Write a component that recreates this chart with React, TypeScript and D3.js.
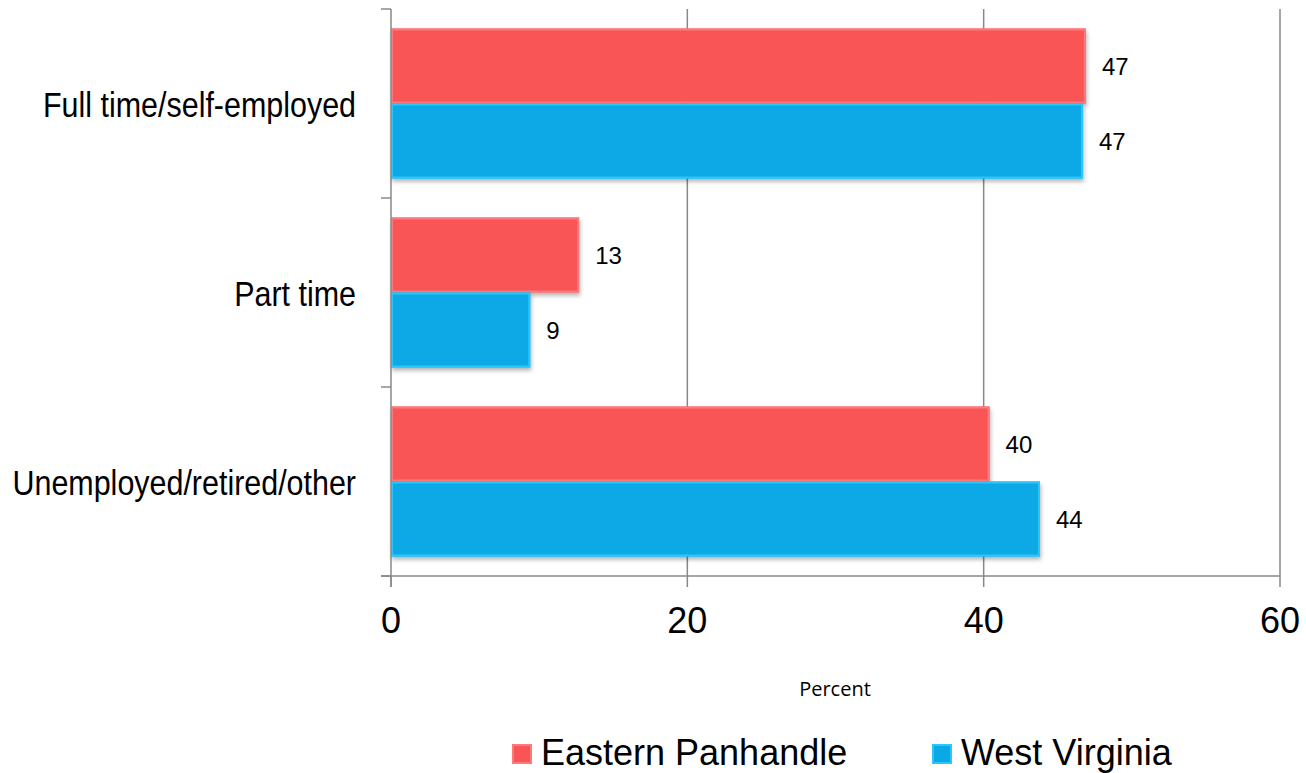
import React from "react";
import * as d3 from "d3";

const categories = ["Full time/self-employed", "Part time", "Unemployed/retired/other"];
const seriesNames = ["Eastern Panhandle", "West Virginia"];
const easternPanhandle = [46.9, 12.7, 40.4];
const westVirginia = [46.7, 9.4, 43.8];
const labelsEP = ["47", "13", "40"];
const labelsWV = ["47", "9", "44"];
const xTicks = [0, 20, 40, 60];

const colors = ["#F95556", "#09A9E6"];
const borders = ["#FB7B7C", "#2BC6FA"];

export default function App() {
  const W = 1306, H = 773;
  const x = d3.scaleLinear().domain([0, 60]).range([391, 1280]);
  const y = d3.scaleBand().domain(categories).range([9, 576]);
  const inner = d3.scaleBand().domain(seriesNames).range([0, y.bandwidth()]).paddingOuter(0.26).paddingInner(0);
  const series = [easternPanhandle, westVirginia];
  const labels = [labelsEP, labelsWV];
  const yTicks = [9, ...categories.map((c) => (y(c) as number) + y.bandwidth())];

  return (
    <svg width={W} height={H} style={{ position: "absolute", left: 0, top: 0 }}>
      <defs>
        <filter id="sh" x="-5%" y="-20%" width="110%" height="150%">
          <feDropShadow dx="1" dy="3" stdDeviation="2" floodColor="#000" floodOpacity="0.3" />
        </filter>
      </defs>
      {xTicks.slice(1).map((t) => (
        <line key={t} x1={x(t)} x2={x(t)} y1={9} y2={576} stroke="#888" strokeWidth={1.5} />
      ))}
      {categories.map((c, ci) =>
        series.map((s, si) => {
          const yy = (y(c) as number) + (inner(seriesNames[si]) as number);
          const h = inner.bandwidth();
          return (
            <g key={c + si}>
              <rect x={x(0)} y={yy} width={x(s[ci]) - x(0)} height={h} fill={colors[si]} filter="url(#sh)" />
              <rect x={x(0) + 1} y={yy + 1} width={x(s[ci]) - x(0) - 2} height={h - 2} fill="none" stroke={borders[si]} strokeWidth={2} />
              <text x={x(s[ci]) + 16} y={yy + h / 2 + 9} fontFamily="Liberation Sans, Arial" fontSize={24} fill="#000">
                {labels[si][ci]}
              </text>
            </g>
          );
        })
      )}
      <line x1={391} x2={391} y1={9} y2={587} stroke="#888" strokeWidth={1.5} />
      <line x1={381} x2={1280} y1={576} y2={576} stroke="#888" strokeWidth={1.5} />
      {yTicks.map((t) => (
        <line key={t} x1={381} x2={391} y1={t} y2={t} stroke="#888" strokeWidth={1.5} />
      ))}
      {xTicks.map((t) => (
        <line key={"b" + t} x1={x(t)} x2={x(t)} y1={576} y2={587} stroke="#888" strokeWidth={1.5} />
      ))}
      {categories.map((c) => (
        <g key={c} transform={`translate(356,${(y(c) as number) + y.bandwidth() / 2 + 13}) scale(0.87,1)`}>
          <text x={0} y={0} textAnchor="end" fontFamily="Liberation Sans, Arial" fontSize={35} fill="#000">
            {c}
          </text>
        </g>
      ))}
      {xTicks.map((t) => (
        <text key={"l" + t} x={x(t)} y={633} textAnchor="middle" fontFamily="Liberation Sans, Arial" fontSize={36} fill="#000">
          {t}
        </text>
      ))}
      <text x={835} y={696} textAnchor="middle" fontFamily="Open Sans, Noto Sans" fontSize={20} fill="#000">
        Percent
      </text>
      {seriesNames.map((n, i) => {
        const lx = [512, 932][i];
        return (
          <g key={n}>
            <rect x={lx + 1} y={745} width={18} height={18} fill={colors[i]} stroke={borders[i]} strokeWidth={2} />
            <text x={lx + 29} y={765} fontFamily="Liberation Sans, Arial" fontSize={36} fill="#000">
              {n}
            </text>
          </g>
        );
      })}
    </svg>
  );
}
